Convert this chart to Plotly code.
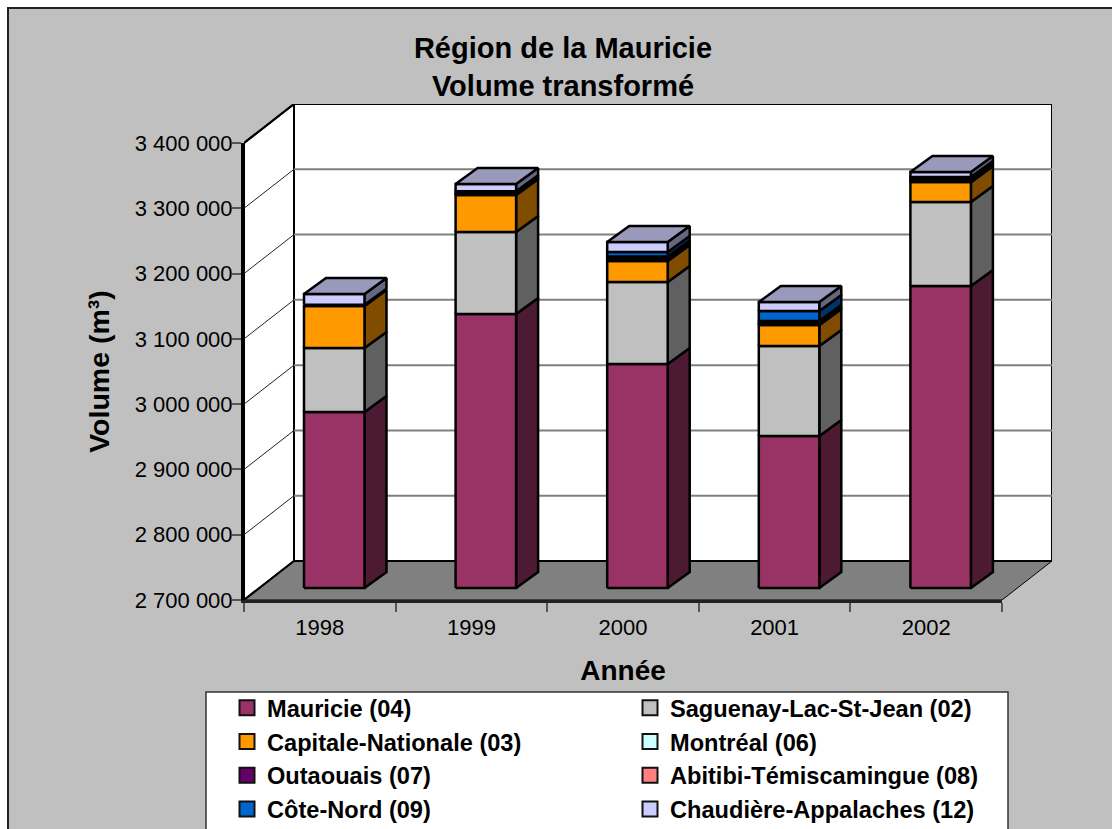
import plotly.graph_objects as go

W, H = 1112, 829
FONT = "Liberation Sans"

# ---------- data ----------
years = ["1998", "1999", "2000", "2001", "2002"]
axis_ticks = [2700000, 2800000, 2900000, 3000000, 3100000, 3200000, 3300000, 3400000]
axis_labels = ["2 700 000", "2 800 000", "2 900 000", "3 000 000",
               "3 100 000", "3 200 000", "3 300 000", "3 400 000"]

mauricie = [2969500, 3119600, 3043000, 2932800, 3162500]
saguenay = [98000, 125600, 125600, 137800, 128600]
capitale = [64300, 56700, 32200, 32200, 30600]
montreal = [800, 1500, 3000, 2500, 2500]
outaouais = [600, 2000, 2500, 2500, 3000]
abitibi = [300, 800, 1500, 1100, 2000]
cote_nord = [500, 1500, 7000, 15300, 500]
chaudiere = [16200, 11000, 15100, 13800, 7400]

series_names = ["Mauricie (04)", "Saguenay-Lac-St-Jean (02)", "Capitale-Nationale (03)",
                "Montréal (06)", "Outaouais (07)", "Abitibi-Témiscamingue (08)",
                "Côte-Nord (09)", "Chaudière-Appalaches (12)"]
series_values = [mauricie, saguenay, capitale, montreal, outaouais, abitibi, cote_nord, chaudiere]
front_colors = ["#993366", "#c0c0c0", "#ff9900", "#ccffff", "#660066", "#ff8080", "#0066cc", "#ccccff"]
side_colors = ["#4d1a33", "#606060", "#804d00", "#668080", "#330033", "#804040", "#003366", "#666680"]
top_color = "#9999bb"

# ---------- view geometry (pixels of the oblique projection) ----------
PX_X = 758 / 5           # pixels per category
PX_Y = 457 / 700000      # pixels per m3
WALL_DX, WALL_DY = 50 / PX_X, 39 / PX_Y
BAR_LEFT, BAR_W = 60 / PX_X, 60.5 / PX_X
BAR_LIFT = 12 / PX_Y
BAR_DX, BAR_DY = 22 / PX_X, 16 / PX_Y
Y0, Y1 = axis_ticks[0], axis_ticks[-1]
N = len(years)
EDGE = 2.5

fig = go.Figure()


def poly(xs, ys, fill, lw=EDGE, lc="#000000"):
    fig.add_trace(go.Scatter(x=xs, y=ys, mode="lines", fill="toself", fillcolor=fill,
                             line=dict(color=lc, width=lw), showlegend=False, hoverinfo="skip"))


def seg(xs, ys, color, lw):
    fig.add_trace(go.Scatter(x=xs, y=ys, mode="lines", line=dict(color=color, width=lw),
                             showlegend=False, hoverinfo="skip"))


# walls and floor
poly([WALL_DX, N + WALL_DX, N + WALL_DX, WALL_DX, WALL_DX],
     [Y0 + WALL_DY, Y0 + WALL_DY, Y1 + WALL_DY, Y1 + WALL_DY, Y0 + WALL_DY], "#ffffff", lw=2)
poly([0, WALL_DX, WALL_DX, 0, 0], [Y0, Y0 + WALL_DY, Y1 + WALL_DY, Y1, Y0], "#ffffff", lw=2)
poly([0, N, N + WALL_DX, WALL_DX, 0], [Y0, Y0, Y0 + WALL_DY, Y0 + WALL_DY, Y0], "#808080", lw=1)
seg([WALL_DX, N + WALL_DX], [Y0 + WALL_DY, Y0 + WALL_DY], "#000000", 2)
seg([WALL_DX, WALL_DX], [Y0 + WALL_DY, Y1 + WALL_DY], "#000000", 2)
seg([0, WALL_DX], [Y1, Y1 + WALL_DY], "#000000", 2)
seg([0, WALL_DX], [Y0, Y0 + WALL_DY], "#000000", 2)

# gridlines
for t in axis_ticks[1:-1]:
    seg([WALL_DX, N + WALL_DX], [t + WALL_DY, t + WALL_DY], "#808080", 2)
    seg([0, WALL_DX], [t, t + WALL_DY], "#222222", 1)

# bars
bottoms = [Y0 + BAR_LIFT] * N
for k, values in enumerate(series_values):
    fx, fy, sx, sy = [], [], [], []
    for i, v in enumerate(values):
        if k == 0:
            v = v - Y0
        x0 = i + BAR_LEFT
        x1 = x0 + BAR_W
        b = bottoms[i]
        t = b + v
        fx += [x0, x1, x1, x0, x0, None]
        fy += [b, b, t, t, b, None]
        sx += [x1, x1 + BAR_DX, x1 + BAR_DX, x1, x1, None]
        sy += [b, b + BAR_DY, t + BAR_DY, t, b, None]
        bottoms[i] = t
    poly(sx, sy, side_colors[k])
    poly(fx, fy, front_colors[k])

tx, ty = [], []
for i in range(N):
    x0 = i + BAR_LEFT
    x1 = x0 + BAR_W
    t = bottoms[i]
    tx += [x0, x1, x1 + BAR_DX, x0 + BAR_DX, x0, None]
    ty += [t, t, t + BAR_DY, t + BAR_DY, t, None]
poly(tx, ty, top_color)

# legend entries (on the visible axes)
for name, col in zip(series_names, front_colors):
    fig.add_trace(go.Scatter(x=[None], y=[None], mode="markers", name=name,
                             xaxis="x2", yaxis="y2",
                             marker=dict(symbol="square", size=15, color=col,
                                         line=dict(color="#111111", width=2))))

fig.update_layout(
    width=W, height=H,
    margin=dict(l=0, r=0, t=0, b=0, autoexpand=False),
    paper_bgcolor="#ffffff", plot_bgcolor="rgba(0,0,0,0)",
    font=dict(family=FONT, color="#000000", size=21),
    title=dict(text="Région de la Mauricie<br>Volume transformé",
               font=dict(family=FONT, size=29, weight=700, color="#000000"),
               x=563 / W, xanchor="center", xref="container",
               y=1 - 58 / H, yanchor="top", yref="container"),
    xaxis=dict(visible=False, domain=[244 / W, 1052 / W], range=[0, N + WALL_DX], anchor="y"),
    yaxis=dict(visible=False, domain=[(H - 600) / H, (H - 104) / H], range=[Y0, Y1 + WALL_DY], anchor="x"),
    xaxis2=dict(domain=[244 / W, 1002 / W], range=[0, N], anchor="y2",
                showline=True, linecolor="#222222", linewidth=3, showgrid=False, zeroline=False,
                tickmode="array", tickvals=[i + 0.5 for i in range(N)], ticktext=years,
                ticks="", ticklabelstandoff=6, tickfont=dict(size=22, family=FONT),
                minor=dict(tickmode="array", tickvals=list(range(N + 1)), ticks="outside",
                           ticklen=9, tickwidth=2, tickcolor="#555555", showgrid=False),
                title=dict(text="Année", font=dict(size=28, weight=700, family=FONT), standoff=30)),
    yaxis2=dict(domain=[(H - 600) / H, (H - 143) / H], range=[Y0, Y1], anchor="x2",
                showline=True, linecolor="#000000", linewidth=3, showgrid=False, zeroline=False,
                tickmode="array", tickvals=axis_ticks, ticktext=axis_labels,
                ticks="outside", ticklen=9, tickwidth=2, tickcolor="#555555",
                ticklabelstandoff=-5, tickfont=dict(size=22, family=FONT),
                title=dict(text="Volume (m³)", font=dict(size=28.5, weight=700, family=FONT), standoff=17)),
    legend=dict(orientation="h", xref="container", yref="container",
                x=227 / W, xanchor="left", y=1 - 686 / H, yanchor="top",
                bgcolor="rgba(0,0,0,0)", borderwidth=0,
                font=dict(family=FONT, size=23.6, weight=700, color="#000000"),
                entrywidthmode="pixels", entrywidth=358, itemclick=False, itemdoubleclick=False),
    shapes=[
        dict(type="rect", xref="paper", yref="paper", x0=8 / W, x1=1.02, y0=-0.02, y1=1 - 8 / H,
             fillcolor="#c0c0c0", line=dict(color="#222222", width=2), layer="below"),
        dict(type="rect", xref="paper", yref="paper", x0=206 / W, x1=1008 / W, y0=-0.02, y1=1 - 692 / H,
             fillcolor="#ffffff", line=dict(color="#333333", width=1.5), layer="below"),
    ],
)

fig.write_html("out.html", config=dict(displayModeBar=False),
               post_script="document.body.style.margin='0';")
